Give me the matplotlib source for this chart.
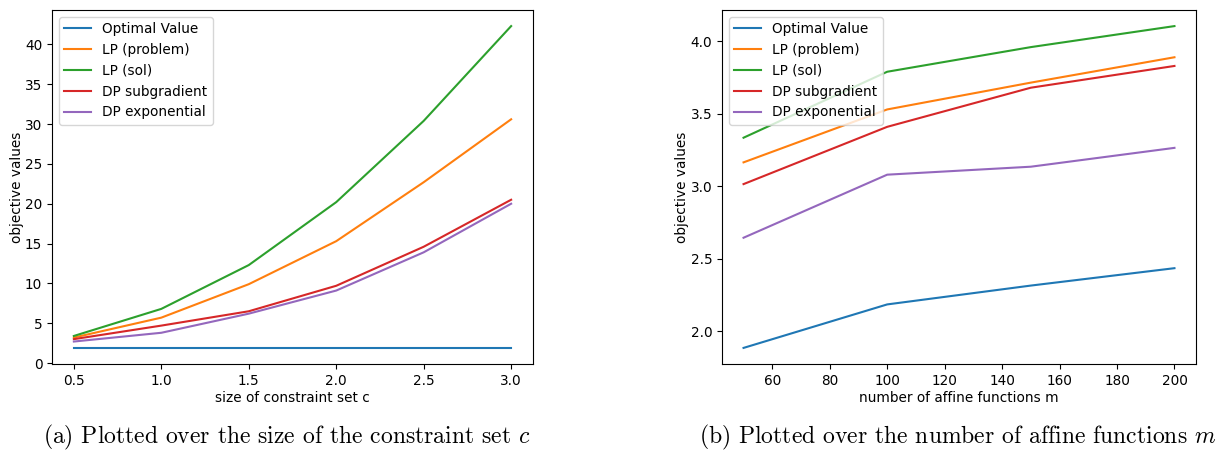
import matplotlib.pyplot as plt

plt.rcParams['mathtext.fontset'] = 'cm'

labels = ["Optimal Value", "LP (problem)", "LP (sol)", "DP subgradient", "DP exponential"]

c_sizes = [0.5, 1.0, 1.5, 2.0, 2.5, 3.0]
c_optimal = [1.9, 1.9, 1.9, 1.9, 1.9, 1.9]
c_lp_problem = [3.2, 5.7, 9.9, 15.3, 22.7, 30.6]
c_lp_sol = [3.4, 6.8, 12.3, 20.2, 30.4, 42.3]
c_dp_subgrad = [3.0, 4.7, 6.5, 9.7, 14.6, 20.5]
c_dp_exp = [2.7, 3.8, 6.2, 9.1, 13.9, 20.0]

m_counts = [50, 100, 150, 200]
m_optimal = [1.885, 2.185, 2.315, 2.435]
m_lp_problem = [3.165, 3.53, 3.715, 3.89]
m_lp_sol = [3.335, 3.79, 3.96, 4.105]
m_dp_subgrad = [3.015, 3.41, 3.68, 3.83]
m_dp_exp = [2.645, 3.08, 3.135, 3.265]

fs = 9.8
W, H = 1232, 455
fig = plt.figure(figsize=(W / 100, H / 100), dpi=100)
ax1 = fig.add_axes([52 / W, 91 / H, 481 / W, 354 / H])
ax2 = fig.add_axes([722 / W, 91 / H, 474 / W, 354 / H])

panels = [
    (ax1, c_sizes, [c_optimal, c_lp_problem, c_lp_sol, c_dp_subgrad, c_dp_exp],
     "size of constraint set c"),
    (ax2, m_counts, [m_optimal, m_lp_problem, m_lp_sol, m_dp_subgrad, m_dp_exp],
     "number of affine functions m"),
]
for ax, x, series, xlabel in panels:
    for ys, lab in zip(series, labels):
        ax.plot(x, ys, label=lab, lw=1.5)
    ax.set_xlabel(xlabel, fontsize=fs, labelpad=2)
    ax.set_ylabel("objective values", fontsize=fs, labelpad=1)
    ax.tick_params(labelsize=fs)
    ax.legend(loc="upper left", fontsize=fs)

ax1.set_yticks(range(0, 45, 5))
ax2.set_xticks(range(60, 201, 20))

fig.text(287 / W, 1 - 437 / H, r"(a) Plotted over the size of the constraint set $c$",
         ha="center", va="center", fontsize=17, family="cmr10")
fig.text(958 / W, 1 - 437 / H, r"(b) Plotted over the number of affine functions $m$",
         ha="center", va="center", fontsize=17, family="cmr10")

fig.savefig("out.png", dpi=100)
